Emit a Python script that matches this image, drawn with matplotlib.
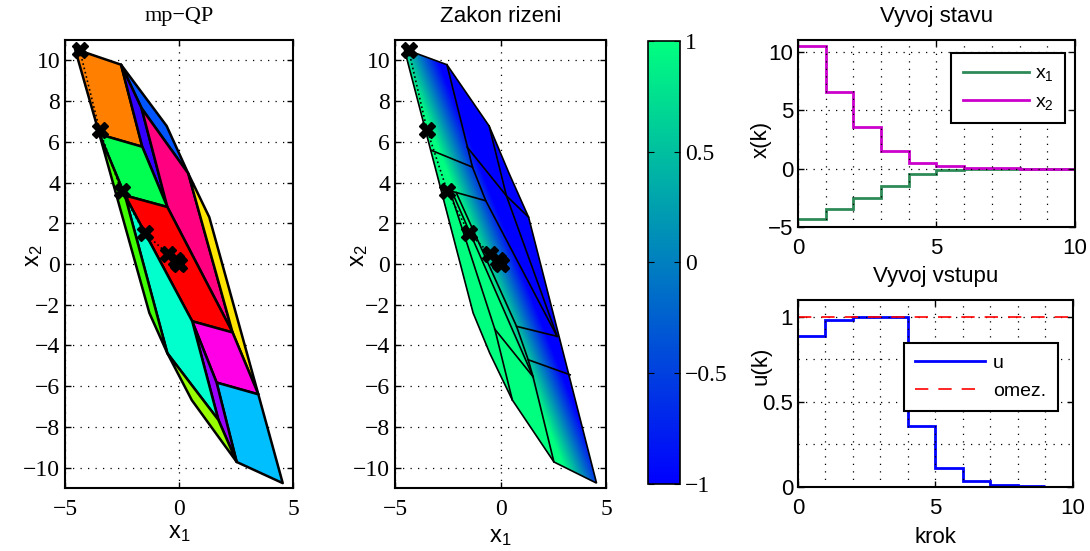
import numpy as np
import matplotlib.pyplot as plt
from matplotlib.patches import Polygon
from matplotlib.ticker import MultipleLocator

plt.rcParams['font.family'] = ['Liberation Sans', 'DejaVu Sans']
plt.rcParams['mathtext.default'] = 'regular'
SERIF = ['Liberation Serif', 'DejaVu Serif']

# closed-loop trajectory
steps = list(range(11))
x1_traj = [-4.35, -3.48, -2.52, -1.51, -0.49, -0.14, -0.03, 0.0, 0.0, 0.0, 0.0]
x2_traj = [10.49, 6.58, 3.57, 1.54, 0.49, 0.20, 0.07, 0.02, 0.0, 0.0, 0.0]
u_edges = list(range(10))
u_vals = [0.89, 0.98, 1.0, 1.0, 0.36, 0.11, 0.033, 0.01, 0.003]
u_limit = 1.0

# mp-QP partition (vertices of the regions)
reg_orange = [(-4.56, 10.56), (-2.54, 9.79), (-1.61, 5.76), (-3.49, 6.37)]
reg_blue = [(-2.54, 9.79), (-0.54, 6.78), (0.41, 4.44), (-1.64, 7.65)]
reg_violet = [(-2.54, 9.79), (-1.64, 7.65), (-0.51, 2.80), (-1.61, 5.76)]
reg_pink = [(-1.64, 7.65), (0.41, 4.44), (2.35, -3.36), (-0.51, 2.80)]
reg_yellow = [(0.41, 4.44), (1.33, 2.30), (3.48, -6.40), (2.35, -3.36)]
reg_green = [(-3.49, 6.37), (-1.61, 5.76), (-0.51, 2.80), (-2.37, 3.37)]
reg_red = [(-2.37, 3.37), (-0.51, 2.80), (2.35, -3.36), (0.58, -2.81)]
reg_magenta = [(0.58, -2.81), (2.35, -3.36), (3.48, -6.40), (1.65, -5.82)]
reg_cyan = [(1.65, -5.82), (3.48, -6.40), (4.55, -10.76), (2.53, -9.72)]
reg_purple = [(0.58, -2.81), (1.65, -5.82), (2.53, -9.72), (1.73, -7.66)]
reg_aqua = [(-2.37, 3.37), (0.58, -2.81), (1.73, -7.66), (-0.51, -4.38)]
reg_lime = [(-3.49, 6.37), (-2.37, 3.37), (-0.51, -4.38), (-1.30, -2.40)]
reg_olive = [(-0.51, -4.38), (1.73, -7.66), (2.53, -9.72), (0.56, -6.68)]
regions = [reg_orange, reg_blue, reg_violet, reg_pink, reg_yellow, reg_green,
           reg_red, reg_magenta, reg_cyan, reg_purple, reg_aqua, reg_lime, reg_olive]
region_colors = ['#FF8000', '#0055FF', '#3300FF', '#FF0080', '#FFE600', '#00FF50',
                 '#FF0000', '#FF00E6', '#00BFFF', '#9900FF', '#00FFCC', '#40FF00', '#99FF00']

# feasible set outline and control-law partition lines
outline = [(-4.56, 10.56), (-2.54, 9.79), (-0.54, 6.78), (0.41, 4.44), (1.33, 2.30),
           (4.55, -10.76), (2.53, -9.72), (0.56, -6.68), (-0.51, -4.38), (-1.30, -2.40)]
law_lines = [
    [(-3.27, 5.58), (-1.33, 4.76)],
    [(-2.40, 3.60), (-0.70, 3.11)],
    [(-2.54, 9.79), (-1.33, 4.76), (-0.70, 3.11), (2.68, -3.55)],
    [(-0.54, 6.78), (0.28, 3.35), (2.68, -3.55)],
    [(-1.58, 5.74), (0.28, 3.35), (1.33, 2.30)],
    [(-2.40, 3.60), (-0.27, -3.20), (0.56, -6.68)],
    [(-2.30, 3.55), (1.54, -5.53)],
    [(-0.27, -3.20), (1.54, -5.53)],
    [(-2.10, 3.51), (0.76, -3.06), (1.31, -4.70), (1.54, -5.53), (2.53, -9.72)],
    [(0.76, -3.06), (2.68, -3.55)],
    [(1.31, -4.70), (3.30, -5.44)],
]
# affine control law u = gain*(x1 + slope*x2), saturated to [-1, 1]
law_gain = -1.2
law_slope = 0.38

fig = plt.figure(figsize=(10.9, 5.51), dpi=100)
ax1 = fig.add_axes([0.0596, 0.1143, 0.2092, 0.813])
ax2 = fig.add_axes([0.3624, 0.1143, 0.1936, 0.813])
cax = fig.add_axes([0.5945, 0.1216, 0.0294, 0.804])
ax3 = fig.add_axes([0.7321, 0.588, 0.2541, 0.3394])
ax4 = fig.add_axes([0.7321, 0.1162, 0.2523, 0.3394])

dotted = (0, (1, 5))


def frame(ax, lw=1.5):
    for s in ax.spines.values():
        s.set_linewidth(lw)
    ax.tick_params(direction='in', top=True, right=True, length=4, width=1)


def partition_axes(ax):
    ax.set_xlim(-5, 5)
    ax.set_ylim(-11, 11)
    ax.set_xticks([-5, 0, 5])
    ax.set_yticks(range(-10, 11, 2))
    ax.set_xticklabels(['\u22125', '0', '5'], family=SERIF, fontsize=17)
    ax.set_yticklabels([('\u2212' + str(-v)) if v < 0 else str(v) for v in range(-10, 11, 2)],
                       family=SERIF, fontsize=17)
    ax.grid(True, color='black', linestyle=dotted, linewidth=0.9)
    ax.set_axisbelow(True)
    frame(ax)
    ax.tick_params(axis='x', pad=8)


# mp-QP regions
for verts, col in zip(regions, region_colors):
    ax1.add_patch(Polygon(verts, closed=True, facecolor=col, edgecolor='black',
                          linewidth=1.8, joinstyle='round', zorder=2))
partition_axes(ax1)
ax1.plot(x1_traj, x2_traj, color='black', linestyle=':', linewidth=1.2, zorder=3)
ax1.plot(x1_traj[:8], x2_traj[:8], linestyle='none', marker='X', markersize=11,
         color='black', zorder=4)
ax1.set_title('mp\u2212QP', family=SERIF, fontsize=16, pad=14)
ax1.set_xlabel('x$_1$', fontsize=17)
ax1.xaxis.set_label_coords(0.5, -0.076)
ax1.set_ylabel('x$_2$', fontsize=17)
ax1.yaxis.set_label_coords(-0.088, 0.518)

# control law
gx = np.linspace(-5, 5, 600)
gy = np.linspace(-11, 11, 1200)
XX, YY = np.meshgrid(gx, gy)
U = np.clip(law_gain * (XX + law_slope * YY), -1, 1)
im = ax2.imshow(U, extent=(-5, 5, -11, 11), origin='lower', cmap='winter', vmin=-1, vmax=1,
                aspect='auto', interpolation='bilinear', zorder=2)
clip = Polygon(outline, closed=True, transform=ax2.transData)
im.set_clip_path(clip)
ax2.add_patch(Polygon(outline, closed=True, fill=False, edgecolor='black', linewidth=1.2, zorder=3))
for seg in law_lines:
    xs, ys = zip(*seg)
    ax2.plot(xs, ys, color='black', linewidth=1.2, zorder=3)
partition_axes(ax2)
ax2.plot(x1_traj, x2_traj, color='black', linestyle=':', linewidth=1.2, zorder=4)
ax2.plot(x1_traj[:8], x2_traj[:8], linestyle='none', marker='X', markersize=11,
         color='black', zorder=5)
ax2.set_title('Zakon rizeni', fontsize=16, pad=13)
ax2.set_xlabel('x$_1$', fontsize=17)
ax2.xaxis.set_label_coords(0.5, -0.085)
ax2.set_ylabel('x$_2$', fontsize=17)
ax2.yaxis.set_label_coords(-0.118, 0.518)

cb = fig.colorbar(im, cax=cax, ticks=[-1, -0.5, 0, 0.5, 1])
cb.ax.set_yticklabels(['\u22121', '\u22120.5', '0', '0.5', '1'], family=SERIF, fontsize=17)
cb.outline.set_linewidth(1.2)
cb.ax.tick_params(direction='in', length=4, left=True)

# state evolution
ax3.stairs(x1_traj[:10], steps, baseline=None, color='#2E8B57', linewidth=2, label='x$_1$')
ax3.stairs(x2_traj[:10], steps, baseline=None, color='#CC00CC', linewidth=2, label='x$_2$')
ax3.set_xlim(0, 10)
ax3.set_ylim(-5, 11)
ax3.set_xticks([0, 5, 10])
ax3.set_yticks([-5, 0, 5, 10])
ax3.set_yticklabels(['\u22125', '0', '5', '10'])
ax3.xaxis.set_minor_locator(MultipleLocator(1))
ax3.grid(True, which='both', axis='x', color='black', linestyle=dotted, linewidth=0.9)
ax3.grid(True, which='major', axis='y', color='black', linestyle=dotted, linewidth=0.9)
frame(ax3)
ax3.tick_params(which='minor', length=0)
ax3.tick_params(labelsize=16)
ax3.tick_params(axis='x', pad=8)
ax3.set_title('Vyvoj stavu', fontsize=16, pad=13)
ax3.set_ylabel('x(k)', fontsize=16)
ax3.yaxis.set_label_coords(-0.095, 0.47)
leg = ax3.legend(loc='upper right', fontsize=14, handlelength=3.4, handletextpad=0.3,
                 fancybox=False, edgecolor='black', framealpha=1, borderpad=0.6,
                 labelspacing=0.5, borderaxespad=0, bbox_to_anchor=(0.964, 0.93))
leg.get_frame().set_linewidth(1.5)

# input evolution
ax4.stairs(u_vals, u_edges, baseline=None, color='blue', linewidth=2, label='u')
ax4.axhline(u_limit, color='red', linestyle=(0, (8, 6)), linewidth=1.2, label='omez.')
ax4.set_xlim(0, 10)
ax4.set_ylim(0, 1.1)
ax4.set_xticks([0, 5, 10])
ax4.set_yticks([0, 0.5, 1])
ax4.set_yticklabels(['0', '0.5', '1'])
ax4.xaxis.set_minor_locator(MultipleLocator(1))
ax4.yaxis.set_minor_locator(MultipleLocator(0.25))
ax4.grid(True, which='both', color='black', linestyle=dotted, linewidth=0.9)
frame(ax4)
ax4.tick_params(which='minor', length=0)
ax4.tick_params(labelsize=16)
ax4.tick_params(axis='x', pad=8)
ax4.set_title('Vyvoj vstupu', fontsize=16, pad=13)
ax4.set_ylabel('u(k)', fontsize=16)
ax4.yaxis.set_label_coords(-0.095, 0.65)
ax4.set_xlabel('krok', fontsize=16, labelpad=6)
leg = ax4.legend(loc='upper right', fontsize=14, handlelength=3.6, handletextpad=0.4,
                 fancybox=False, edgecolor='black', framealpha=1, borderpad=0.6,
                 labelspacing=0.5, borderaxespad=0, bbox_to_anchor=(0.945, 0.77))
leg.get_frame().set_linewidth(1.5)

fig.savefig('out.png', dpi=100)
